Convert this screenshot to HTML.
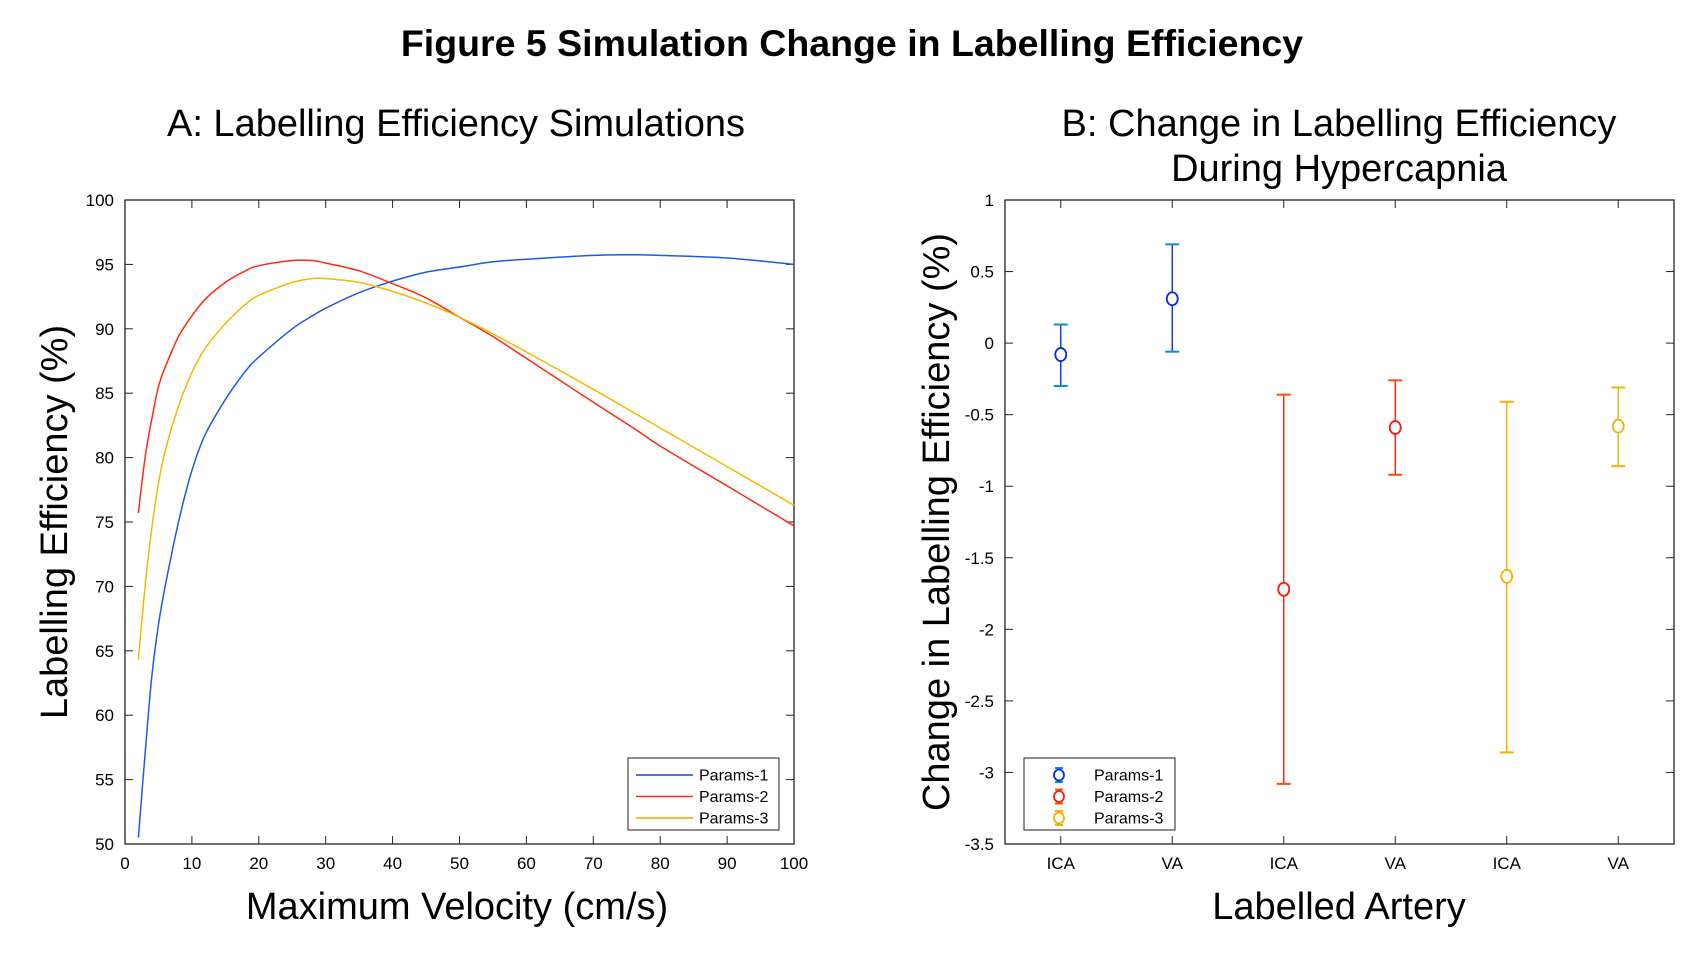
<!DOCTYPE html>
<html><head><meta charset="utf-8"><style>
body{margin:0;background:#fff;}
svg{display:block;font-family:"Liberation Sans",Arial,sans-serif;}
</style></head><body>
<svg id="fig" width="1704" height="954" viewBox="0 0 1704 954">
<text x="852" y="56" text-anchor="middle" font-size="37.5" font-weight="bold">Figure 5 Simulation Change in Labelling Efficiency</text>
<text x="456" y="136" text-anchor="middle" font-size="38">A: Labelling Efficiency Simulations</text>
<text x="1339" y="136" text-anchor="middle" font-size="38">B: Change in Labelling Efficiency</text>
<text x="1339" y="181" text-anchor="middle" font-size="38">During Hypercapnia</text>
<text x="457" y="919" text-anchor="middle" font-size="38">Maximum Velocity (cm/s)</text>
<text x="1339" y="919" text-anchor="middle" font-size="38">Labelled Artery</text>
<text transform="translate(67,522) rotate(-90)" text-anchor="middle" font-size="38">Labelling Efficiency (%)</text>
<text transform="translate(949,522) rotate(-90)" text-anchor="middle" font-size="38">Change in Labelling Efficiency (%)</text>
<g id="pa"></g><g id="pb"></g>
</svg>
<script>
const NS="http://www.w3.org/2000/svg";
function mk(p,t,a){const e=document.createElementNS(NS,t);for(const k in a)e.setAttribute(k,a[k]);p.appendChild(e);return e;}
// Panel A data
const velX=[2,3,4,5,6,8,10,12,15,18,20,25,28,30,35,40,45,50,55,60,70,76,80,90,100];
const p1=[50.5,57,63,67,70,75,79,81.8,84.5,86.7,87.8,90,91,91.6,92.8,93.7,94.4,94.8,95.2,95.4,95.7,95.75,95.7,95.5,95.0];
const p2=[75.7,80,83,85.5,87,89.4,91,92.3,93.6,94.5,94.9,95.3,95.3,95.1,94.5,93.5,92.4,90.9,89.4,87.7,84.3,82.3,80.9,77.8,74.7];
const p3=[64.3,70,74.5,78,80.5,84,86.6,88.5,90.4,91.9,92.6,93.6,93.9,93.9,93.6,92.9,92,90.9,89.6,88.2,85.3,83.5,82.3,79.3,76.3];
const xTicksA=[0,10,20,30,40,50,60,70,80,90,100];
const yTicksA=[50,55,60,65,70,75,80,85,90,95,100];
// Panel B data
const cats=["ICA","VA","ICA","VA","ICA","VA"];
const means=[-0.08,0.31,-1.72,-0.59,-1.63,-0.58];
const lows=[-0.30,-0.06,-3.08,-0.92,-2.86,-0.86];
const highs=[0.13,0.69,-0.36,-0.26,-0.41,-0.31];
const yTicksB=[-3.5,-3,-2.5,-2,-1.5,-1,-0.5,0,0.5,1];
const groupOf=[0,0,1,1,2,2];
const colors=["#0a2be0","#ff1a0a","#f5b000"];
const capColors=["#0a8ae0","#ff4a0a","#f5b000"];
const names=["Params-1","Params-2","Params-3"];

const A={l:125,r:794,t:200,b:844}, B={l:1005,r:1674,t:200,b:844};
const xa=v=>A.l+(v-0)/100*(A.r-A.l), ya=v=>A.b-(v-50)/50*(A.b-A.t);
const xb=i=>B.l+(i+0.5)/6*(B.r-B.l), yb=v=>B.b-(v+3.5)/4.5*(B.b-B.t);

function frame(g,R,name){
  const r=mk(g,'rect',{x:R.l,y:R.t,width:R.r-R.l,height:R.b-R.t,fill:'none',stroke:'#222','stroke-width':1.3});
  
  
}
function smoothPath(P){
  let d='M'+P[0][0].toFixed(1)+','+P[0][1].toFixed(1);
  for(let i=0;i<P.length-1;i++){
    const p0=P[i-1]||P[i],p1=P[i],p2=P[i+1],p3=P[i+2]||p2;
    const c1=[p1[0]+(p2[0]-p0[0])/6,p1[1]+(p2[1]-p0[1])/6];
    const c2=[p2[0]-(p3[0]-p1[0])/6,p2[1]-(p3[1]-p1[1])/6];
    d+=' C'+c1.map(v=>v.toFixed(1)).join(',')+' '+c2.map(v=>v.toFixed(1)).join(',')+' '+p2.map(v=>v.toFixed(1)).join(',');
  }
  return d;
}
const ga=document.getElementById('pa'), gb=document.getElementById('pb');
frame(ga,A,'plot-area-a');frame(gb,B,'plot-area-b');
xTicksA.forEach(v=>{const x=xa(v);
  mk(ga,'line',{x1:x,y1:A.b,x2:x,y2:A.b-8,stroke:'#222'});mk(ga,'line',{x1:x,y1:A.t,x2:x,y2:A.t+8,stroke:'#222'});
  const t=mk(ga,'text',{x:x,y:A.b+25,'text-anchor':'middle','font-size':17});t.textContent=v;
  
  });
yTicksA.forEach(v=>{const y=ya(v);
  mk(ga,'line',{x1:A.l,y1:y,x2:A.l+8,y2:y,stroke:'#222'});mk(ga,'line',{x1:A.r,y1:y,x2:A.r-8,y2:y,stroke:'#222'});
  const t=mk(ga,'text',{x:A.l-11,y:y+6,'text-anchor':'end','font-size':17});t.textContent=v;
  
  });
[p1,p2,p3].forEach((s,k)=>{
  const P=velX.map((v,i)=>[xa(v),ya(s[i])]);
  const pl=mk(ga,'path',{d:smoothPath(P),fill:'none',stroke:['#1a5ae8','#ff2a10','#f5b800'][k],'stroke-width':1.5,'stroke-linejoin':'round'});
  
  
});
// legend A
const lgA=mk(ga,'g',{});


mk(lgA,'rect',{x:628,y:758,width:151,height:72,fill:'#fff',stroke:'#222'});
names.forEach((n,k)=>{const y=775+k*21.5;
  mk(lgA,'line',{x1:636,y1:y,x2:693,y2:y,stroke:['#1a3ae8','#ff2a10','#f5a000'][k],'stroke-width':1.5});
  const t=mk(lgA,'text',{x:699,y:y+5.5,'font-size':16});t.textContent=n;
  
  });
// Panel B axes
cats.forEach((c,i)=>{const x=xb(i);
  mk(gb,'line',{x1:x,y1:B.b,x2:x,y2:B.b-8,stroke:'#222'});mk(gb,'line',{x1:x,y1:B.t,x2:x,y2:B.t+8,stroke:'#222'});
  const t=mk(gb,'text',{x:x,y:B.b+25,'text-anchor':'middle','font-size':17});t.textContent=c;
  
  });
yTicksB.forEach(v=>{const y=yb(v);
  mk(gb,'line',{x1:B.l,y1:y,x2:B.l+8,y2:y,stroke:'#222'});mk(gb,'line',{x1:B.r,y1:y,x2:B.r-8,y2:y,stroke:'#222'});
  const t=mk(gb,'text',{x:B.l-11,y:y+6,'text-anchor':'end','font-size':17});t.textContent=v;
  
  });
means.forEach((m,i)=>{const g=groupOf[i],x=xb(i),c=colors[g],cc=capColors[g];
  const eg=mk(gb,'g',{});
  
  
  mk(eg,'line',{x1:x,y1:yb(lows[i]),x2:x,y2:yb(highs[i]),stroke:c,'stroke-width':1.4});
  mk(eg,'line',{x1:x-7,y1:yb(lows[i]),x2:x+7,y2:yb(lows[i]),stroke:cc,'stroke-width':2});
  mk(eg,'line',{x1:x-7,y1:yb(highs[i]),x2:x+7,y2:yb(highs[i]),stroke:cc,'stroke-width':2});
  mk(eg,'ellipse',{cx:x,cy:yb(m),rx:5.5,ry:6.5,fill:'#fff',stroke:c,'stroke-width':1.8});
});
// legend B
const lgB=mk(gb,'g',{});


mk(lgB,'rect',{x:1024,y:758,width:151,height:72,fill:'#fff',stroke:'#222'});
names.forEach((n,k)=>{const y=775+k*21.5,x=1059;
  mk(lgB,'line',{x1:x,y1:y-7,x2:x,y2:y+7,stroke:colors[k],'stroke-width':1.4});
  mk(lgB,'line',{x1:x-4,y1:y-7,x2:x+4,y2:y-7,stroke:capColors[k],'stroke-width':2});
  mk(lgB,'line',{x1:x-4,y1:y+7,x2:x+4,y2:y+7,stroke:capColors[k],'stroke-width':2});
  mk(lgB,'ellipse',{cx:x,cy:y,rx:5,ry:5.5,fill:'#fff',stroke:colors[k],'stroke-width':1.8});
  const t=mk(lgB,'text',{x:1094,y:y+5.5,'font-size':16});t.textContent=n;
  
  });
</script>
</body></html>
